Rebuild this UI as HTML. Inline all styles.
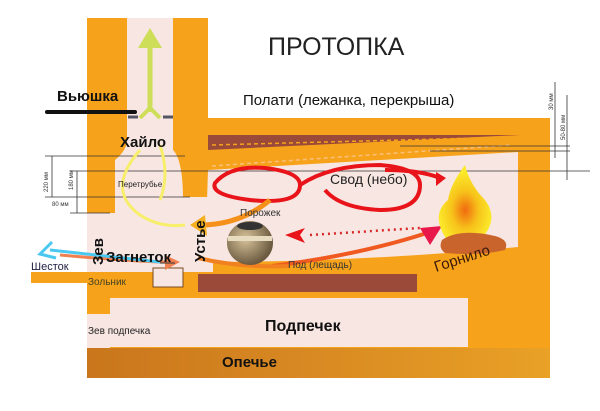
<!DOCTYPE html>
<html><head><meta charset="utf-8"><style>
html,body{margin:0;padding:0;background:#fff;}
svg{display:block;font-family:"Liberation Sans",sans-serif;}
</style></head><body>
<svg width="600" height="411" viewBox="0 0 600 411" xmlns="http://www.w3.org/2000/svg">
<defs>
<linearGradient id="op" x1="0" x2="1"><stop offset="0" stop-color="#c9761c"/><stop offset="0.5" stop-color="#d98a22"/><stop offset="1" stop-color="#e9a126"/></linearGradient>
<radialGradient id="fl" cx="0.5" cy="0.6" r="0.5"><stop offset="0" stop-color="#f06a10"/><stop offset="0.5" stop-color="#f7c21a"/><stop offset="1" stop-color="#fbe92a"/></radialGradient>
<radialGradient id="pot" cx="0.4" cy="0.4" r="0.6"><stop offset="0" stop-color="#d8c39a"/><stop offset="1" stop-color="#6b5a40"/></radialGradient>
</defs>
<!-- main orange body -->
<rect x="87" y="18" width="121" height="300" fill="#f7a21b"/>
<rect x="87" y="118" width="463" height="230" fill="#f7a21b"/>
<!-- chimney flue -->
<path d="M127 18 H173 V150 Q183 160 183 200 V213 H115 V160 Q127 150 127 140 Z" fill="#f8e6e2"/>
<!-- lower left pink area -->
<rect x="87" y="213" width="121" height="59" fill="#f8e6e2"/>
<rect x="183" y="197" width="30" height="75" fill="#f8e6e2"/>
<!-- firebox interior -->
<path d="M208 170 L518 152 L518 247 Q360 262 205 262 Z" fill="#f8e6e2"/>
<!-- roof brown stripe -->
<path d="M208 135 L520 135 L208 150 Z" fill="#9b4a3a"/>
<path d="M212 145 L515 137" stroke="#f7a21b" stroke-width="1.5" stroke-dasharray="4 3"/>
<path d="M212 166 L512 145" stroke="#f9c07a" stroke-width="1.5" stroke-dasharray="4 3"/>
<!-- shestok ledge -->
<rect x="31" y="272" width="56" height="11" fill="#f7a21b"/>
<!-- zolnik -->
<rect x="153" y="268" width="30" height="19" fill="#f8e6e2" stroke="#7a4a20" stroke-width="1"/>
<!-- brown bar -->
<rect x="198" y="274" width="219" height="18" fill="#9b4a3a"/>
<!-- podpechek -->
<rect x="110" y="298" width="358" height="49" fill="#f8e6e2"/>
<rect x="87" y="314" width="23" height="34" fill="#f8e6e2"/>
<!-- opechye -->
<rect x="87" y="348" width="463" height="30" fill="url(#op)"/>
<!-- dimension lines -->
<g stroke="#333" stroke-width="0.8" fill="none">
<line x1="45" y1="156" x2="185" y2="156"/>
<line x1="70" y1="171" x2="590" y2="171"/>
<line x1="45" y1="197" x2="190" y2="197"/>
<line x1="70" y1="213" x2="110" y2="213"/>
<line x1="52" y1="156" x2="52" y2="197"/>
<line x1="77" y1="171" x2="77" y2="213"/>
<line x1="400" y1="146" x2="570" y2="146"/>
<line x1="430" y1="151" x2="570" y2="151"/>
<line x1="555" y1="82" x2="555" y2="158"/>
<line x1="567" y1="95" x2="567" y2="180"/>
</g>
<g font-size="6" fill="#333">
<text transform="translate(48,192) rotate(-90)">220 мм</text>
<text transform="translate(73,190) rotate(-90)">180 мм</text>
<text x="52" y="206">80 мм</text>
<text transform="translate(553,110) rotate(-90)">30 мм</text>
<text transform="translate(565,140) rotate(-90)">50-80 мм</text>
</g>
<!-- vyushka -->
<line x1="47" y1="112" x2="135" y2="112" stroke="#111" stroke-width="4" stroke-linecap="round"/>
<line x1="128" y1="117" x2="138" y2="117" stroke="#556" stroke-width="3"/>
<line x1="163" y1="117" x2="173" y2="117" stroke="#556" stroke-width="3"/>
<!-- yellow flow -->
<g fill="none" stroke="#f7ee6a" stroke-width="3">
<path d="M140 150 Q105 190 140 215 Q160 228 185 225"/>
<path d="M160 145 Q170 175 160 200"/>
</g>
<path d="M150 112 V45" stroke="#cede58" stroke-width="5"/>
<path d="M138 48 L150 28 L162 48 Z" fill="#cede58"/>
<path d="M140 118 L150 108 L160 118" stroke="#cede58" stroke-width="4" fill="none"/>
<!-- red loops -->
<g fill="none" stroke="#e8141a" stroke-width="4">
<path d="M215 183 Q230 165 265 168 Q300 172 300 185 Q300 205 250 200 Q210 195 215 183 Z"/>
<path d="M300 185 Q330 165 380 165 Q420 168 420 185 Q420 210 380 210 Q340 208 325 190"/>
<path d="M385 170 Q420 170 440 178"/>
</g>
<path d="M436 172 L446 178 L436 186 Z" fill="#e8141a"/>
<path d="M310 235 L420 228" stroke="#d82a2a" stroke-width="2.5" stroke-dasharray="2 4"/>
<path d="M285 235 L305 228 L300 235 L305 243 Z" fill="#e8141a"/>
<path d="M272 266 Q360 255 430 232" stroke="#f05a20" stroke-width="4" fill="none"/>
<path d="M420 228 L442 226 L430 245 Z" fill="#e8184a"/>
<path d="M270 200 Q240 225 200 225" stroke="#f5901a" stroke-width="5" fill="none"/>
<path d="M205 215 L190 225 L207 236 Z" fill="#f5b020"/>
<path d="M198 258 Q240 268 290 266" stroke="#f08020" stroke-width="4" fill="none"/>
<path d="M60 255 Q140 262 165 262" stroke="#f08050" stroke-width="3" fill="none"/>
<path d="M165 255 L180 262 L165 270 Z" fill="#f08050"/>
<path d="M50 250 L160 262" stroke="#4bc8f0" stroke-width="3"/>
<path d="M52 242 L40 254 L56 258" stroke="#4bc8f0" stroke-width="3" fill="none"/>
<path d="M160 263 L175 263" stroke="#333" stroke-width="1"/>
<!-- pot -->
<ellipse cx="250" cy="243" rx="23" ry="22" fill="url(#pot)"/>
<ellipse cx="250" cy="226" rx="13" ry="4" fill="#333"/>
<rect x="228" y="236" width="44" height="5" fill="#e8dcc0"/>
<!-- fire -->
<path d="M447 240 Q430 215 448 200 Q450 185 465 165 Q470 185 485 200 Q500 220 480 240 Z" fill="url(#fl)"/>
<path d="M442 240 Q460 228 495 236 Q510 240 505 250 Q480 256 445 253 Q438 248 442 240 Z" fill="#c8642c"/>
<!-- texts -->
<text x="268" y="55" font-size="25" fill="#222" font-weight="300">ПРОТОПКА</text>
<text x="243" y="105" font-size="15" fill="#111">Полати (лежанка, перекрыша)</text>
<text x="57" y="101" font-size="15" fill="#111" font-weight="bold">Вьюшка</text>
<text x="120" y="147" font-size="15" fill="#111" font-weight="bold">Хайло</text>
<text x="118" y="187" font-size="8" fill="#222">Перетрубье</text>
<text x="330" y="184" font-size="14" fill="#222">Свод (небо)</text>
<text x="240" y="216" font-size="10" fill="#333">Порожек</text>
<text x="288" y="268" font-size="10" fill="#333">Под (лещадь)</text>
<text x="106" y="262" font-size="15" fill="#111" font-weight="bold">Загнеток</text>
<text transform="translate(103,265) rotate(-90)" font-size="15" fill="#111" font-weight="bold">Зев</text>
<text transform="translate(205,262) rotate(-90)" font-size="15" fill="#111" font-weight="bold">Устье</text>
<text x="31" y="270" font-size="11" fill="#224">Шесток</text>
<text x="88" y="285" font-size="10" fill="#442">Зольник</text>
<text x="88" y="334" font-size="10" fill="#222">Зев подпечка</text>
<text x="265" y="331" font-size="16" fill="#111" font-weight="bold">Подпечек</text>
<text x="222" y="367" font-size="15" fill="#111" font-weight="bold">Опечье</text>
<text transform="translate(436,272) rotate(-18)" font-size="15" fill="#3a1a08">Горнило</text>
</svg>
</body></html>
